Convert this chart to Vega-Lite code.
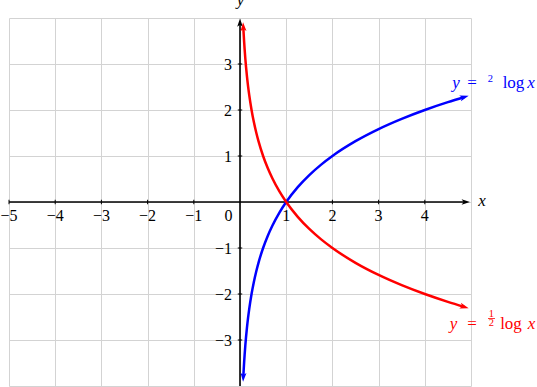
{
  "$schema": "https://vega.github.io/schema/vega-lite/v6.json",
  "width": 462,
  "height": 368,
  "autosize": {"type": "none"},
  "padding": {"left": 9, "top": 18, "right": 66, "bottom": 1},
  "background": "white",
  "config": {"view": {"stroke": null}},
  "datasets": {
    "curves": [
      {"x": 0.072, "y": -3.796, "c": "b"}, {"x": 0.08, "y": -3.644, "c": "b"}, {"x": 0.09, "y": -3.474, "c": "b"},
      {"x": 0.1, "y": -3.322, "c": "b"}, {"x": 0.115, "y": -3.12, "c": "b"}, {"x": 0.13, "y": -2.943, "c": "b"},
      {"x": 0.15, "y": -2.737, "c": "b"}, {"x": 0.175, "y": -2.515, "c": "b"}, {"x": 0.2, "y": -2.322, "c": "b"},
      {"x": 0.25, "y": -2, "c": "b"}, {"x": 0.3, "y": -1.737, "c": "b"}, {"x": 0.35, "y": -1.515, "c": "b"},
      {"x": 0.4, "y": -1.322, "c": "b"}, {"x": 0.5, "y": -1, "c": "b"}, {"x": 0.6, "y": -0.737, "c": "b"},
      {"x": 0.7, "y": -0.515, "c": "b"}, {"x": 0.85, "y": -0.234, "c": "b"}, {"x": 1, "y": 0, "c": "b"},
      {"x": 1.25, "y": 0.322, "c": "b"}, {"x": 1.5, "y": 0.585, "c": "b"}, {"x": 1.75, "y": 0.807, "c": "b"},
      {"x": 2, "y": 1, "c": "b"}, {"x": 2.5, "y": 1.322, "c": "b"}, {"x": 3, "y": 1.585, "c": "b"},
      {"x": 3.5, "y": 1.807, "c": "b"}, {"x": 4, "y": 2, "c": "b"}, {"x": 4.5, "y": 2.17, "c": "b"},
      {"x": 4.85, "y": 2.278, "c": "b"},
      {"x": 0.072, "y": 3.796, "c": "r"}, {"x": 0.08, "y": 3.644, "c": "r"}, {"x": 0.09, "y": 3.474, "c": "r"},
      {"x": 0.1, "y": 3.322, "c": "r"}, {"x": 0.115, "y": 3.12, "c": "r"}, {"x": 0.13, "y": 2.943, "c": "r"},
      {"x": 0.15, "y": 2.737, "c": "r"}, {"x": 0.175, "y": 2.515, "c": "r"}, {"x": 0.2, "y": 2.322, "c": "r"},
      {"x": 0.25, "y": 2, "c": "r"}, {"x": 0.3, "y": 1.737, "c": "r"}, {"x": 0.35, "y": 1.515, "c": "r"},
      {"x": 0.4, "y": 1.322, "c": "r"}, {"x": 0.5, "y": 1, "c": "r"}, {"x": 0.6, "y": 0.737, "c": "r"},
      {"x": 0.7, "y": 0.515, "c": "r"}, {"x": 0.85, "y": 0.234, "c": "r"}, {"x": 1, "y": 0, "c": "r"},
      {"x": 1.25, "y": -0.322, "c": "r"}, {"x": 1.5, "y": -0.585, "c": "r"}, {"x": 1.75, "y": -0.807, "c": "r"},
      {"x": 2, "y": -1, "c": "r"}, {"x": 2.5, "y": -1.322, "c": "r"}, {"x": 3, "y": -1.585, "c": "r"},
      {"x": 3.5, "y": -1.807, "c": "r"}, {"x": 4, "y": -2, "c": "r"}, {"x": 4.5, "y": -2.17, "c": "r"},
      {"x": 4.85, "y": -2.278, "c": "r"}
    ],
    "axes": [
      {"x": -5, "x2": 4.9, "y": 0, "y2": 0, "c": "k"},
      {"x": 0, "x2": 0, "y": -4, "y2": 3.9, "c": "k"}
    ],
    "xticks": [
      {"x": -5, "y": 0, "t": "−5", "c": "k"}, {"x": -4, "y": 0, "t": "−4", "c": "k"}, {"x": -3, "y": 0, "t": "−3", "c": "k"},
      {"x": -2, "y": 0, "t": "−2", "c": "k"}, {"x": -1, "y": 0, "t": "−1", "c": "k"}, {"x": 1, "y": 0, "t": "1", "c": "k"},
      {"x": 2, "y": 0, "t": "2", "c": "k"}, {"x": 3, "y": 0, "t": "3", "c": "k"}, {"x": 4, "y": 0, "t": "4", "c": "k"}
    ],
    "yticks": [
      {"x": 0, "y": 3, "t": "3", "c": "k"}, {"x": 0, "y": 2, "t": "2", "c": "k"}, {"x": 0, "y": 1, "t": "1", "c": "k"},
      {"x": 0, "y": -1, "t": "−1", "c": "k"}, {"x": 0, "y": -2, "t": "−2", "c": "k"}, {"x": 0, "y": -3, "t": "−3", "c": "k"}
    ],
    "eq": [
      {"x": 4.675, "y": 2.489, "t": "y", "c": "b", "k": "var"},
      {"x": 5.022, "y": 2.489, "t": "=", "c": "b", "k": "op"},
      {"x": 5.422, "y": 2.615, "t": "2", "c": "b", "k": "small"},
      {"x": 5.92, "y": 2.489, "t": "log", "c": "b", "k": "op"},
      {"x": 6.299, "y": 2.489, "t": "x", "c": "b", "k": "var"},
      {"x": 4.621, "y": -2.75, "t": "y", "c": "r", "k": "var"},
      {"x": 5.022, "y": -2.75, "t": "=", "c": "r", "k": "op"},
      {"x": 5.44, "y": -2.505, "t": "1", "c": "r", "k": "small"},
      {"x": 5.44, "y": -2.69, "t": "2", "c": "r", "k": "small"},
      {"x": 5.866, "y": -2.75, "t": "log", "c": "r", "k": "op"},
      {"x": 6.31, "y": -2.75, "t": "x", "c": "r", "k": "var"},
      {"x": 5.238, "y": -0.087, "t": "x", "c": "k", "k": "var"},
      {"x": 0.011, "y": 4.272, "t": "y", "c": "k", "k": "var"}
    ]
  },
  "encoding": {
    "x": {"field": "x", "type": "quantitative",
      "scale": {"domain": [-5, 5], "nice": false, "zero": false},
      "axis": {"values": [-5, -4, -3, -2, -1, 0, 1, 2, 3, 4, 5], "grid": true, "gridColor": "#d3d3d3", "gridWidth": 1,
        "labels": false, "ticks": false, "domain": false, "title": null}},
    "y": {"field": "y", "type": "quantitative",
      "scale": {"domain": [-4, 4], "nice": false, "zero": false},
      "axis": {"values": [-4, -3, -2, -1, 0, 1, 2, 3, 4], "grid": true, "gridColor": "#d3d3d3", "gridWidth": 1,
        "labels": false, "ticks": false, "domain": false, "title": null}},
    "color": {"field": "c", "type": "nominal",
      "scale": {"domain": ["k", "b", "r"], "range": ["#000000", "#0000ff", "#ff0000"]}, "legend": null}
  },
  "layer": [
    {"data": {"name": "axes"}, "mark": {"type": "rule", "strokeWidth": 1.6},
      "encoding": {"x2": {"field": "x2"}, "y2": {"field": "y2"}}},
    {"data": {"name": "xticks"}, "mark": {"type": "point", "shape": "stroke", "angle": 90, "size": 20, "filled": false, "strokeWidth": 1, "opacity": 1}},
    {"data": {"name": "yticks"}, "mark": {"type": "point", "shape": "stroke", "angle": 0, "size": 20, "filled": false, "strokeWidth": 1, "opacity": 1}},
    {"data": {"name": "xticks"}, "mark": {"type": "text", "font": "Liberation Serif", "fontSize": 16, "align": "center", "baseline": "alphabetic", "dy": 19},
      "encoding": {"text": {"field": "t"}}},
    {"data": {"name": "yticks"}, "mark": {"type": "text", "font": "Liberation Serif", "fontSize": 16, "align": "right", "baseline": "alphabetic", "dx": -8, "dy": 5.5},
      "encoding": {"text": {"field": "t"}}},
    {"data": {"values": [{"x": 0, "y": 0, "t": "0", "c": "k"}]}, "mark": {"type": "text", "font": "Liberation Serif", "fontSize": 16, "align": "center", "baseline": "alphabetic", "dx": -11.5, "dy": 18.5},
      "encoding": {"text": {"field": "t"}}},
    {"data": {"name": "curves"}, "mark": {"type": "line", "strokeWidth": 2.5, "interpolate": "monotone"}},
    {"data": {"values": [{"x": 4.978, "y": 0, "c": "k"}]},
      "mark": {"type": "point", "shape": "M0,0L0.8,2.4L0,1.8L-0.8,2.4Z", "filled": true, "size": 49, "angle": 90, "opacity": 1, "strokeWidth": 0}},
    {"data": {"values": [{"x": 0, "y": 3.99, "c": "k"}]},
      "mark": {"type": "point", "shape": "M0,0L0.8,2.4L0,1.8L-0.8,2.4Z", "filled": true, "size": 49, "angle": 0, "opacity": 1, "strokeWidth": 0}},
    {"data": {"values": [{"x": 4.95, "y": 2.308, "c": "b"}]},
      "mark": {"type": "point", "shape": "M0,0L0.8,2.4L0,1.8L-0.8,2.4Z", "filled": true, "size": 56, "angle": 73.75, "opacity": 1, "strokeWidth": 0}},
    {"data": {"values": [{"x": 4.95, "y": -2.308, "c": "r"}]},
      "mark": {"type": "point", "shape": "M0,0L0.8,2.4L0,1.8L-0.8,2.4Z", "filled": true, "size": 56, "angle": 106.25, "opacity": 1, "strokeWidth": 0}},
    {"data": {"values": [{"x": 0.0666, "y": -3.908, "c": "b"}]},
      "mark": {"type": "point", "shape": "M0,0L0.8,2.4L0,1.8L-0.8,2.4Z", "filled": true, "size": 56, "angle": 182.64, "opacity": 1, "strokeWidth": 0}},
    {"data": {"values": [{"x": 0.0666, "y": 3.908, "c": "r"}]},
      "mark": {"type": "point", "shape": "M0,0L0.8,2.4L0,1.8L-0.8,2.4Z", "filled": true, "size": 56, "angle": -2.64, "opacity": 1, "strokeWidth": 0}},
    {"data": {"name": "eq"}, "transform": [{"filter": "datum.k === 'var'"}],
      "mark": {"type": "text", "font": "Liberation Serif", "fontSize": 17, "fontStyle": "italic", "align": "center", "baseline": "alphabetic"},
      "encoding": {"text": {"field": "t"}}},
    {"data": {"name": "eq"}, "transform": [{"filter": "datum.k === 'op'"}],
      "mark": {"type": "text", "font": "Liberation Serif", "fontSize": 17, "align": "center", "baseline": "alphabetic"},
      "encoding": {"text": {"field": "t"}}},
    {"data": {"name": "eq"}, "transform": [{"filter": "datum.k === 'small'"}],
      "mark": {"type": "text", "font": "Liberation Serif", "fontSize": 10.5, "align": "center", "baseline": "alphabetic"},
      "encoding": {"text": {"field": "t"}}},
    {"data": {"values": [{"x": 5.368, "x2": 5.519, "y": -2.533, "c": "r"}]},
      "mark": {"type": "rule", "strokeWidth": 0.8},
      "encoding": {"x2": {"field": "x2"}}}
  ]
}
